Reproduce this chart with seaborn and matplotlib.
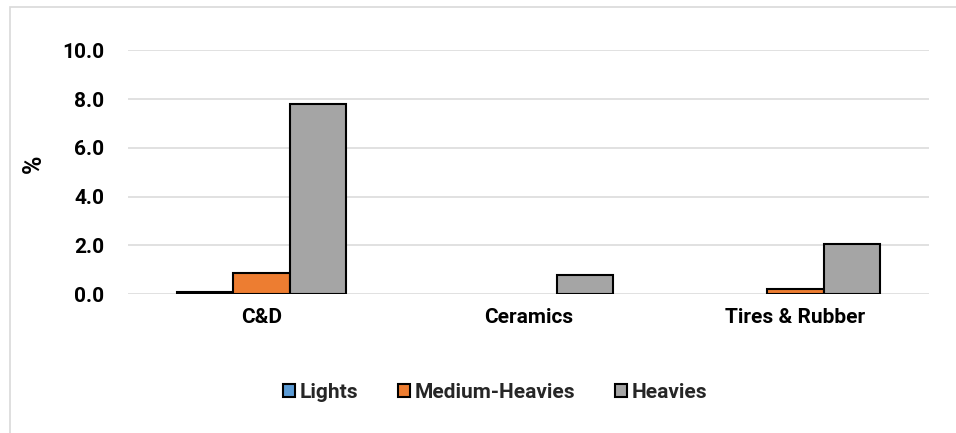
import matplotlib
matplotlib.use("Agg")
import matplotlib.pyplot as plt
from matplotlib.patches import Rectangle
import seaborn as sns
import pandas as pd

categories = ["C&D", "Ceramics", "Tires & Rubber"]
series = ["Lights", "Medium-Heavies", "Heavies"]
lights = [0.10, 0.0, 0.0]
medium_heavies = [0.86, 0.0, 0.20]
heavies = [7.79, 0.78, 2.07]
y_ticks = [0.0, 2.0, 4.0, 6.0, 8.0, 10.0]
colors = ["#5B9BD5", "#ED7D31", "#A5A5A5"]

rows = []
for name, vals in zip(series, [lights, medium_heavies, heavies]):
    for cat, v in zip(categories, vals):
        rows.append({"category": cat, "series": name, "value": v})
df = pd.DataFrame(rows)

sns.set_theme(style="white")
plt.rcParams["font.family"] = ["Roboto", "DejaVu Sans"]
FS = 15
FW = "semibold"

fig = plt.figure(figsize=(9.56, 4.33), dpi=100)
ax = fig.add_axes([128 / 956, 1 - 294 / 433, (929 - 128) / 956, (294 - 50.3) / 433])

sns.barplot(data=df, x="category", y="value", hue="series", hue_order=series,
            order=categories, palette=colors, width=0.63, ax=ax,
            edgecolor="black", linewidth=1.5, saturation=1, legend=False,
            errorbar=None, zorder=3)

# empty bars show no outline
for p in ax.patches:
    if p.get_height() == 0:
        p.set_linewidth(0)

ax.set_ylim(0, 10)
ax.set_xlim(-0.5, 2.5)
ax.set_yticks(y_ticks)
ax.set_yticklabels([f"{t:.1f}" for t in y_ticks], fontsize=FS, fontweight=FW, color="black")
ax.set_xticks(range(len(categories)))
ax.set_xticklabels(categories, fontsize=FS, fontweight=FW, color="black")
ax.tick_params(axis="y", length=0, pad=17)
ax.tick_params(axis="x", length=0, pad=10)
ax.set_xlabel("")
ax.set_ylabel("%", fontsize=18, fontweight=FW, color="black")
ax.yaxis.set_label_coords((46 - 128) / 801, (294 - 164) / 243.7)
ax.grid(axis="y", color="#D9D9D9", linewidth=1.1, zorder=0)
ax.set_axisbelow(True)
for s in ax.spines.values():
    s.set_visible(False)

handles = [Rectangle((0, 0), 1, 1, facecolor=c, edgecolor="black", linewidth=1.5)
           for c in colors]
fig.legend(handles, series, loc="center", bbox_to_anchor=(495 / 956, 1 - 392 / 433),
           ncol=3, frameon=False, prop={"size": FS, "weight": FW},
           handlelength=0.6, handleheight=0.6, handletextpad=0.2, columnspacing=1.9)

# chart-area border
fig.add_artist(Rectangle((10 / 956, -0.1), 1.1, (1 - 7 / 433) + 0.1,
                         transform=fig.transFigure, fill=False,
                         edgecolor="#D9D9D9", linewidth=1.2))

fig.savefig("out.png", dpi=100)
